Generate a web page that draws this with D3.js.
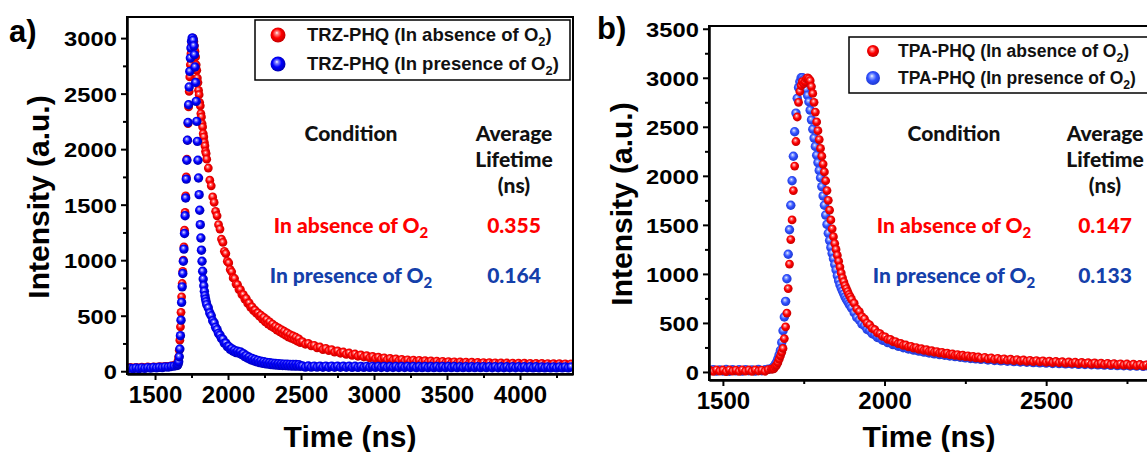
<!DOCTYPE html>
<html>
<head>
<meta charset="utf-8">
<script src="https://cdn.jsdelivr.net/npm/d3@7"></script>
<style>
  body { margin: 0; background: #fff; }
  svg { display: block; }
  text { font-family: Arial, "Liberation Sans", sans-serif; font-weight: bold; }
  .tbl { font-family: Lato, "Open Sans", sans-serif; font-weight: 900; }
</style>
</head>
<body>
<svg id="chart"></svg>
<script>
// ---- data ----
// detector channel times (ns), finer where the curves are steep
var timeA = [].concat(d3.range(1310, 1651, 20), d3.range(1654, 1855, 4),
                      d3.range(1865, 2496, 10), d3.range(2510, 4351, 20));
var timeB = [].concat(d3.range(1460, 1651, 10), d3.range(1654, 1900, 4),
                      d3.range(1906, 2300, 8), d3.range(2310, 2891, 10));

// panel a) TRZ-PHQ, in absence of O2
var trzAbsent = [
  30,34,29,35,31,36,33,38,34,39,37,41,40,44,43,48,52,60,
  70,95,130,190,280,400,530,670,790,900,
  1000,1120,1270,1430,1580,1750,1910,2080,2230,2380,
  2520,2650,2760,2860,2930,2975,3000,2995,2970,2930,
  2880,2830,2760,2710,2640,2600,2530,2490,2420,2390,
  2320,2290,2230,2200,2140,2110,2060,2030,1980,1960,
  1910,
  1830,
  1720,1670,1570,1520,1440,1400,1320,1280,1190,1160,
  1080,1060,990,975,915,895,840,835,785,780,
  735,735,690,690,650,655,610,615,575,580,
  545,550,520,525,495,505,470,485,445,465,
  425,445,405,425,390,405,370,390,355,375,
  338,360,322,345,308,330,296,318,284,306,
  270,292,258,
  266,243,250,228,233,210,218,195,205,185,
  194,172,183,162,173,152,164,143,155,135,
  147,128,140,120,133,113,126,108,120,103,
  115,100,111,95,107,91,103,89,100,86,
  98,84,95,81,93,79,91,77,89,75,
  87,73,85,71,84,70,82,68,81,67,
  79,66,78,65,77,64,76,63,75,62,
  74,61,73,60,72,59,72,58,71,58,
  70,57,70,56,69,56,68,55,68,55,
  67,55,66];
// panel a) TRZ-PHQ, in presence of O2
var trzPresent = [
  22,28,23,29,24,30,26,32,28,34,30,36,33,39,37,43,46,52,
  55,65,85,130,200,320,460,620,760,880,
  990,1100,1240,1400,1560,1730,1900,2080,2240,2400,
  2560,2700,2820,2910,2970,3000,3000,2980,2930,2850,
  2740,2600,2430,2250,2070,1900,1740,1590,1450,1320,
  1200,1090,990,900,830,770,720,680,650,625,
  600,
  570,525,500,455,435,395,375,340,325,295,
  288,252,253,222,223,197,203,180,188,168,
  180,162,174,150,158,132,140,117,126,104,
  115,94,106,86,98,78,91,72,85,67,
  80,64,76,60,73,57,70,55,68,53,
  66,52,64,50,63,48,62,47,61,46,
  60,46,59,45,
  47,37,47,37,46,37,46,36,46,36,
  46,36,45,36,45,36,45,35,45,35,
  44,35,44,35,44,35,44,34,44,34,
  43,34,43,34,43,34,43,34,43,33,
  42,33,42,33,42,33,42,33,42,33,
  42,32,42,32,41,32,41,32,41,32,
  41,32,41,32,41,31,41,31,40,31,
  40,31,40,31,40,31,40,31,40,30,
  40,30,39,30,39,30,39,30,39,30,
  39,30,39];

// panel b) TPA-PHQ, in absence of O2
var tpaAbsent = [
  18,5,22,8,20,4,21,9,19,6,22,8,20,5,21,10,19,7,24,28,
  30,35,55,70,95,130,165,200,240,340,
  460,600,850,1100,1350,1550,1850,2100,2350,2600,
  2750,2860,2920,2960,2940,2960,2990,3000,2990,2970,
  2910,2840,2750,2650,2550,2460,2370,2280,2200,2120,
  2040,1950,1850,1750,1650,1550,1460,1380,1310,1250,
  1190,1130,1070,1010,960,920,880,850,820,790,
  765,740,
  701,644,616,564,541,499,481,444,431,399,
  391,362,358,332,332,308,310,288,291,271,
  275,256,261,243,249,231,237,220,227,210,
  217,201,208,192,200,184,192,176,184,169,
  177,162,171,156,165,150,159,144,153,139,
  149,134,144,129,139,124,134,120,130,116,
  126,112,122,109,119,105,116,102,113,99,
  110,96,107,94,104,91,102,89,99,86,
  97,84,94,81,92,79,90,77,88,74,
  85,72,83,70,81,68,79,65,76,62,
  73,60,71,58,69,56,67,55,66];
// panel b) TPA-PHQ, in presence of O2
var tpaPresent = [
  12,24,8,21,10,25,7,22,11,23,9,24,12,21,8,25,13,22,27,34,
  40,55,75,100,135,175,220,300,420,560,
  720,950,1200,1450,1700,1950,2200,2450,2640,2790,
  2900,2960,3000,3000,2980,2900,2880,2820,2755,2670,
  2570,2475,2385,2300,2210,2135,2055,1980,1890,1795,
  1700,1600,1505,1415,1340,1270,1210,1155,1095,1040,
  980,930,890,855,825,795,765,740,718,695,
  675,652,
  605,555,530,489,471,435,421,390,380,352,
  347,323,320,299,298,279,280,262,264,247,
  250,234,238,223,227,212,217,202,208,193,
  199,185,191,177,183,170,176,163,169,156,
  163,150,157,144,151,138,146,133,141,129,
  135,122,130,117,125,113,121,109,117,105,
  113,102,110,99,107,95,104,93,101,90,
  99,87,96,85,94,83,92,81,89,78,
  87,76,85,74,83,72,81,70,79,67,
  76,65,74,63,72,61,70,59,68,57,
  66,55,64,53,62,51,60,50,59];

var xTicksA = [1500, 2000, 2500, 3000, 3500, 4000];
var xMinorA = [1750, 2250, 2750, 3250, 3750, 4250];
var yTicksA = [0, 500, 1000, 1500, 2000, 2500, 3000];
var xTicksB = [1500, 2000, 2500];
var xMinorB = [1750, 2250, 2750];
var yTicksB = [0, 500, 1000, 1500, 2000, 2500, 3000, 3500];
var yMinor = [250, 750, 1250, 1750, 2250, 2750, 3250];

var legendA = ["TRZ-PHQ (In absence of O", "TRZ-PHQ (In presence of O"];
var legendB = ["TPA-PHQ (In absence of O", "TPA-PHQ (In presence of O"];
var lifeA = ["0.355", "0.164"];
var lifeB = ["0.147", "0.133"];

// ---- drawing ----
var W = 1147, H = 452;
var svg = d3.select("#chart").attr("width", W).attr("height", H);
var defs = svg.append("defs");

function sphere(id, light, mid, dark) {
  var g = defs.append("radialGradient").attr("id", id)
    .attr("cx", "45%").attr("cy", "45%").attr("r", "55%")
    .attr("fx", "42%").attr("fy", "35%");
  g.append("stop").attr("offset", "0%").attr("stop-color", "#ffffff");
  g.append("stop").attr("offset", "18%").attr("stop-color", light);
  g.append("stop").attr("offset", "55%").attr("stop-color", mid);
  g.append("stop").attr("offset", "100%").attr("stop-color", dark);
}
sphere("gRed", "#ff8a8a", "#ff0000", "#c40000");
sphere("gBlue", "#8a8aff", "#0000ff", "#0000b0");
sphere("gBlue2", "#9fb3ff", "#3050ff", "#1f3ad0");

function drawPanel(p) {
  var x = d3.scaleLinear().domain(p.xDom).range([p.left, p.right]);
  var y = d3.scaleLinear().domain(p.yDom).range([p.bottom, p.top]);
  var g = svg.append("g");

  var clipId = "clip" + p.name;
  defs.append("clipPath").attr("id", clipId).append("rect")
    .attr("x", p.left).attr("y", p.top)
    .attr("width", p.right - p.left).attr("height", p.bottom - p.top);

  var plot = g.append("g").attr("clip-path", "url(#" + clipId + ")");
  p.series.forEach(function (s) {
    var pts = p.time.map(function (t, i) { return [t, s.v[i]]; })
      .filter(function (d) { return d[1] != null; });
    plot.append("g").selectAll("circle")
      .data(pts)
      .enter().append("circle")
      .attr("cx", function (d) { return x(d[0]); })
      .attr("cy", function (d) { return y(d[1]); })
      .attr("r", s.r)
      .attr("fill", "url(#" + s.grad + ")");
  });

  g.append("rect")
    .attr("x", p.left).attr("y", p.top)
    .attr("width", p.right - p.left).attr("height", p.bottom - p.top)
    .attr("fill", "none").attr("stroke", "#000").attr("stroke-width", 2);

  var xa = g.append("g").attr("transform", "translate(0," + p.bottom + ")")
    .call(d3.axisBottom(x).tickValues(p.xTicks).tickSize(6).tickSizeOuter(0).tickPadding(6).tickFormat(d3.format("d")));
  g.append("g").attr("transform", "translate(0," + p.bottom + ")")
    .call(d3.axisBottom(x).tickValues(p.xMinor).tickSize(4).tickSizeOuter(0).tickFormat(""));
  var ya = g.append("g").attr("transform", "translate(" + p.left + ",0)")
    .call(d3.axisLeft(y).tickValues(p.yTicks).tickSize(6).tickSizeOuter(0).tickPadding(3).tickFormat(d3.format("d")));
  g.append("g").attr("transform", "translate(" + p.left + ",0)")
    .call(d3.axisLeft(y).tickValues(yMinor.filter(function (v) { return v < p.yDom[1]; }))
      .tickSize(4).tickSizeOuter(0).tickFormat(""));
  g.selectAll(".domain").attr("stroke-width", 2);
  g.selectAll(".tick line").attr("stroke-width", 2);
  xa.selectAll("text").attr("font-size", 24).attr("fill", "#000");
  ya.selectAll("text").attr("font-size", 21).attr("fill", "#000").attr("dy", "0.36em")
    .attr("transform", "scale(1.13,1)");

  g.append("text").attr("x", p.xTitleX).attr("y", 447)
    .attr("text-anchor", "middle").attr("font-size", 30).text("Time (ns)");
  g.append("text")
    .attr("transform", "translate(" + p.yTitleX + "," + p.yTitleY + ") rotate(-90)")
    .attr("text-anchor", "middle").attr("font-size", 30).text("Intensity (a.u.)");
  g.append("text").attr("x", p.tagX).attr("y", p.tagY)
    .attr("font-size", 31).text(p.tag);

  // legend
  var lg = p.legend;
  g.append("rect").attr("x", lg.x).attr("y", lg.y).attr("width", lg.w).attr("height", lg.h)
    .attr("fill", "#fff").attr("stroke", "#000").attr("stroke-width", 1.5);
  lg.labels.forEach(function (lab, i) {
    var s = p.series[lg.order[i]];
    g.append("circle").attr("cx", lg.x + lg.dot).attr("cy", lg.y + lg.row0 + i * lg.gap)
      .attr("r", lg.r[i]).attr("fill", "url(#" + s.grad + ")");
    var t = g.append("text").attr("x", lg.x + lg.tx).attr("y", lg.y + lg.row0 + i * lg.gap + 6)
      .attr("font-size", lg.fs).attr("fill", "#111");
    t.append("tspan").text(lab);
    t.append("tspan").attr("dy", 5).attr("font-size", lg.fs * 0.7).text("2");
    t.append("tspan").attr("dy", -5).text(")");
  });

  // lifetime table
  var tb = p.table;
  function tx(xp, yp, str, col) {
    return g.append("text").attr("class", "tbl").attr("x", xp).attr("y", yp)
      .attr("text-anchor", "middle").attr("font-size", 21).attr("fill", col).text(str);
  }
  tx(tb.c1, 141, "Condition", "#111");
  tx(tb.c2, 141, "Average", "#111");
  tx(tb.c2, 167, "Lifetime", "#111");
  tx(tb.c2, 193, "(ns)", "#111");
  var rows = [["In absence of O", "#ff0000", 233], ["In presence of O", "#1440aa", 283]];
  rows.forEach(function (r, i) {
    var t = g.append("text").attr("class", "tbl").attr("x", tb.c1).attr("y", r[2])
      .attr("text-anchor", "middle").attr("font-size", 21).attr("fill", r[1]);
    t.append("tspan").text(r[0]);
    t.append("tspan").attr("dy", 5).attr("font-size", 15).text("2");
    tx(tb.c2, r[2], tb.vals[i], r[1]);
  });
}

drawPanel({
  name: "A", left: 127, right: 573, top: 17, bottom: 374,
  xDom: [1308, 4363], yDom: [-25, 3190], time: timeA,
  xTicks: xTicksA, xMinor: xMinorA, yTicks: yTicksA,
  series: [
    { v: trzAbsent, r: 4.4, grad: "gRed" },
    { v: trzPresent, r: 4.7, grad: "gBlue" }
  ],
  xTitleX: 350, yTitleX: 49, yTitleY: 197, tag: "a)", tagX: 9, tagY: 42,
  legend: { x: 255, y: 20, w: 315, h: 60, dot: 23, tx: 52, row0: 15, gap: 29, r: [7.5, 7.5],
            fs: 18.5, labels: legendA, order: [0, 1] },
  table: { c1: 351, c2: 514, vals: lifeA }
});

drawPanel({
  name: "B", left: 709, right: 1169, top: 26, bottom: 380,
  xDom: [1457, 2880], yDom: [-82, 3528], time: timeB,
  xTicks: xTicksB, xMinor: xMinorB, yTicks: yTicksB,
  series: [
    { v: tpaPresent, r: 4.7, grad: "gBlue2" },
    { v: tpaAbsent, r: 4.4, grad: "gRed" }
  ],
  xTitleX: 929, yTitleX: 632, yTitleY: 204, tag: "b)", tagX: 597, tagY: 39,
  legend: { x: 849, y: 37, w: 310, h: 56, dot: 24, tx: 49, row0: 14, gap: 27, r: [6, 7],
            fs: 17.5, labels: legendB, order: [1, 0] },
  table: { c1: 954, c2: 1105, vals: lifeB }
});
</script>
</body>
</html>
